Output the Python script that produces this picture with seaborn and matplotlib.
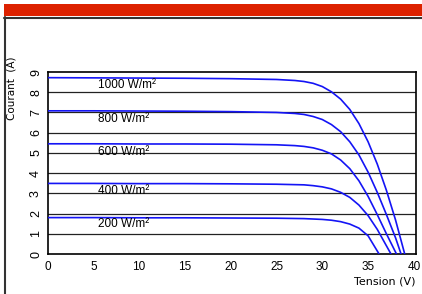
import numpy as np
import pandas as pd
import matplotlib
matplotlib.use("Agg")
import matplotlib.pyplot as plt
import seaborn as sns
from matplotlib.patches import Rectangle
from matplotlib.lines import Line2D

# ---- data ----
irradiance = ["1000 W/m²", "800 W/m²", "600 W/m²", "400 W/m²", "200 W/m²"]

v_1000 = [0, 5, 10, 15, 20, 25, 27, 28, 29, 30, 31, 32, 33, 34, 35, 36, 37, 38, 39.0]
i_1000 = [8.72, 8.71, 8.70, 8.69, 8.67, 8.63, 8.58, 8.53, 8.44, 8.28, 8.02, 7.66, 7.15, 6.45, 5.55, 4.45, 3.15, 1.68, 0.0]

v_800 = [0, 5, 10, 15, 20, 25, 27, 28, 29, 30, 31, 32, 33, 34, 35, 36, 37, 38, 38.6]
i_800 = [7.08, 7.08, 7.07, 7.06, 7.04, 7.00, 6.95, 6.90, 6.80, 6.65, 6.40, 6.05, 5.55, 4.90, 4.05, 3.05, 1.95, 0.80, 0.0]

v_600 = [0, 5, 10, 15, 20, 25, 27, 28, 29, 30, 31, 32, 33, 34, 35, 36, 37, 38.1]
i_600 = [5.45, 5.45, 5.44, 5.44, 5.43, 5.40, 5.36, 5.32, 5.25, 5.13, 4.95, 4.65, 4.22, 3.62, 2.85, 1.95, 1.00, 0.0]

v_400 = [0, 5, 10, 15, 20, 25, 28, 29, 30, 31, 32, 33, 34, 35, 36, 37.5]
i_400 = [3.49, 3.49, 3.48, 3.48, 3.47, 3.45, 3.42, 3.38, 3.32, 3.22, 3.05, 2.80, 2.42, 1.90, 1.22, 0.0]

v_200 = [0, 5, 10, 15, 20, 25, 28, 30, 31, 32, 33, 34, 35, 36.2]
i_200 = [1.80, 1.80, 1.79, 1.79, 1.78, 1.77, 1.75, 1.71, 1.67, 1.60, 1.48, 1.28, 0.90, 0.0]

x_ticks = [0, 5, 10, 15, 20, 25, 30, 35, 40]
y_ticks = [0, 1, 2, 3, 4, 5, 6, 7, 8, 9]
x_label = "Tension (V)"
y_label = "Courant  (A)"

label_pos = [(5.5, 8.38), (5.5, 6.68), (5.5, 5.05), (5.5, 3.1), (5.5, 1.47)]

# ---- build table ----
frames = []
for name, v, i in zip(irradiance,
                      [v_1000, v_800, v_600, v_400, v_200],
                      [i_1000, i_800, i_600, i_400, i_200]):
    frames.append(pd.DataFrame({"V": v, "I": i, "G": name}))
df = pd.concat(frames, ignore_index=True)

sns.set_style("white")
plt.rcParams["font.family"] = ["Liberation Sans", "DejaVu Sans"]
plt.rcParams["text.color"] = "black"
plt.rcParams["xtick.color"] = "black"
plt.rcParams["ytick.color"] = "black"

fig = plt.figure(figsize=(4.22, 2.94), dpi=100)
fig.patch.set_facecolor("white")

# header bar and frame
fig.patches.append(Rectangle((4/422, 1-16/294), 1-4/422, 12/294, transform=fig.transFigure,
                             facecolor="#dd2200", edgecolor="none"))
fig.lines.append(Line2D([4/422, 1], [1-17.5/294, 1-17.5/294], transform=fig.transFigure,
                        color="#333333", lw=1.5))
fig.lines.append(Line2D([4.5/422, 4.5/422], [0, 1-17/294], transform=fig.transFigure,
                        color="#333333", lw=1.5))

ax = fig.add_axes([47.6/422, 1-254/294, (415.7-47.6)/422, (254-72)/294])

for y in y_ticks[1:-1]:
    ax.axhline(y, color="#222222", lw=0.9, zorder=1)

sns.lineplot(data=df, x="V", y="I", hue="G", palette=["#1414f5"]*5, legend=False,
             estimator=None, sort=False, lw=1.2, ax=ax, zorder=3)

for name, (lx, ly) in zip(irradiance, label_pos):
    ax.text(lx, ly, name, fontsize=8.5, va="center", ha="left", zorder=4, color="black")

ax.set_xlim(0, 40.2)
ax.set_ylim(0, 9)
ax.set_xticks(x_ticks)
ax.set_yticks(y_ticks)
ax.tick_params(axis="x", direction="in", length=4, width=1, labelsize=8.5, pad=5,
               color="black", labelcolor="black")
ax.tick_params(axis="y", length=0, labelsize=9, pad=4, labelrotation=90, labelcolor="black")
for lab in ax.get_yticklabels():
    lab.set_va("center")
ax.set_xlabel("")
ax.set_ylabel("")
for s in ax.spines.values():
    s.set_color("black")
    s.set_linewidth(1.2)

fig.text(415/422, 1-281/294, x_label, ha="right", va="center", fontsize=8, family=["DejaVu Sans"],
         color="black")
fig.text(12/422, 1-88/294, y_label, ha="center", va="center", rotation=90, fontsize=7.5,
         family=["DejaVu Sans"], color="black")

fig.savefig("out.png", dpi=100)
